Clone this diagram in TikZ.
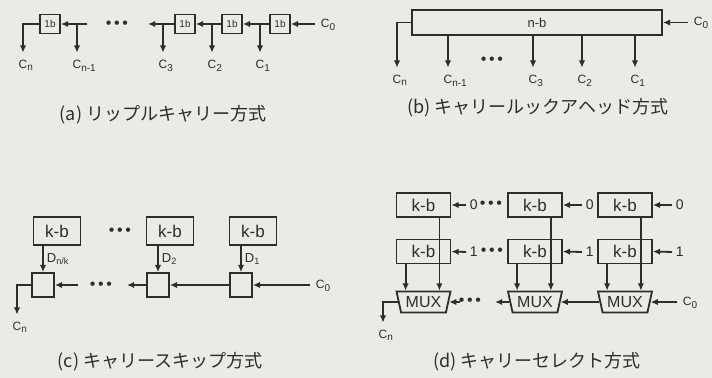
\documentclass[tikz,border=0pt]{standalone}
\usepackage{fontspec}
\setmainfont{Liberation Sans}
\newfontfamily\jpfont{Noto Sans CJK JP}
\usetikzlibrary{arrows.meta, calc, positioning, shapes.geometric}

\definecolor{paper}{RGB}{234,234,230}
\definecolor{ink}{RGB}{45,45,45}

\begin{document}
\begin{tikzpicture}[x=0.5pt, y=-0.5pt, >={Latex[length=3.6pt,width=3.2pt]}, color=ink, line width=0.9pt,
  onebit/.style={draw, inner sep=0pt, minimum width=10pt, minimum height=9.5pt, font=\fontsize{5}{5}\selectfont},
  kbit/.style={draw, inner sep=0pt, font=\fontsize{8.5}{9}\selectfont},
  skipbox/.style={draw, inner sep=0pt, minimum width=11pt, minimum height=12pt},
  mux/.style={draw, trapezium, trapezium left angle=108, trapezium right angle=108, trapezium stretches=true, inner sep=0pt, minimum width=27pt, minimum height=10.5pt, font=\fontsize{8}{8}\selectfont},
  sig/.style={inner xsep=2.5pt, inner ysep=3pt, text height=4.5pt, text depth=1pt, font=\fontsize{6}{6}\selectfont},
  bitin/.style={anchor=west, inner xsep=1.5pt, inner ysep=0pt, font=\fontsize{7}{7}\selectfont},
  dsig/.style={anchor=west, inner sep=1.5pt, font=\fontsize{6.5}{7}\selectfont},
  dotrow/.style={inner sep=0pt, font=\fontsize{8}{8}\selectfont},
  capt/.style={font=\jpfont\fontsize{9}{9}\selectfont}]
  \path[use as bounding box, fill=paper] (0,0) rectangle (712,378);

  % (a)
  \node[onebit] (a1) at (50,24) {1b};
  \node[onebit] (a2) at (185,24) {1b};
  \node[onebit] (a3) at (232,24) {1b};
  \node[onebit] (a4) at (280,24) {1b};
  \node[sig, anchor=west] (ac0) at (315,24) {C\rlap{\textsubscript{0}}};
  \node[sig] (ac1) at (260,65) {C\rlap{\textsubscript{1}}};
  \node[sig] (ac2) at (212,65) {C\rlap{\textsubscript{2}}};
  \node[sig] (ac3) at (163,65) {C\rlap{\textsubscript{3}}};
  \node[sig] (acm) at (77,65) {C\rlap{\textsubscript{n-1}}};
  \node[sig] (acn) at (23,65) {C\rlap{\textsubscript{n}}};
  \node[dotrow] (adots) at (117,25) {\textbullet\,\textbullet\,\textbullet};
  \coordinate (aend) at (148,24);
  \coordinate (astart) at (87,24);
  \draw[->] (ac0.west) -- (a4.east);
  \draw[->] (a4.west) -- (a3.east);
  \draw[->] (a3.west) -- (a2.east);
  \draw[->] (a2.west) -- (aend);
  \draw[->] (astart) -- (a1.east);
  \draw[->] (a1.west) -| (acn.north);
  \foreach \c in {ac1, ac2, ac3, acm}
    \draw[->] (\c |- a1.east) -- (\c.north);
  \node[capt] (capa) at (163,115) {(a) リップルキャリー方式};

  % (b)
  \node[draw, inner sep=0pt, minimum width=125pt, minimum height=12.5pt, font=\fontsize{6.5}{7}\selectfont] (nb) at (537,22.5) {n-b};
  \node[sig, anchor=west] (bc0) at (688,22.5) {C\rlap{\textsubscript{0}}};
  \node[sig] (bc1) at (635,80) {C\rlap{\textsubscript{1}}};
  \node[sig] (bc2) at (582,80) {C\rlap{\textsubscript{2}}};
  \node[sig] (bc3) at (533,80) {C\rlap{\textsubscript{3}}};
  \node[sig] (bcm) at (448,80) {C\rlap{\textsubscript{n-1}}};
  \node[sig] (bcn) at (397,80) {C\rlap{\textsubscript{n}}};
  \node[dotrow] (bdots) at (492,61) {\textbullet\,\textbullet\,\textbullet};
  \draw[->] (bc0.west) -- (nb.east);
  \draw[->] (nb.west) -| (bcn.north);
  \foreach \c in {bc1, bc2, bc3, bcm}
    \draw[->] (\c |- nb.south) -- (\c.north);
  \node[capt] (capb) at (538,108) {(b) キャリールックアヘッド方式};

  % (c)
  \node[kbit, minimum width=23.5pt, minimum height=14pt] (k1) at (57,231) {k-b};
  \node[kbit, minimum width=23.5pt, minimum height=14pt] (k2) at (170,231) {k-b};
  \node[kbit, minimum width=23.5pt, minimum height=14pt] (k3) at (253,231) {k-b};
  \node[dotrow] (kdots) at (120,232) {\textbullet\,\textbullet\,\textbullet};
  \node[skipbox] (s1) at (43,285) {};
  \node[skipbox] (s2) at (158,285) {};
  \node[skipbox] (s3) at (241,285) {};
  \draw[->] (s1 |- k1.south) -- (s1.north) node[dsig, midway] (dnk) {D\rlap{\textsubscript{n/k}}};
  \draw[->] (s2 |- k2.south) -- (s2.north) node[dsig, midway] (d2) {D\rlap{\textsubscript{2}}};
  \draw[->] (s3 |- k3.south) -- (s3.north) node[dsig, midway] (d1) {D\rlap{\textsubscript{1}}};
  \node[sig, anchor=west] (cc0) at (310,285) {C\rlap{\textsubscript{0}}};
  \node[sig] (ccn) at (17,327) {C\rlap{\textsubscript{n}}};
  \node[dotrow] (cdots) at (101,286) {\textbullet\,\textbullet\,\textbullet};
  \coordinate (cend) at (127,285);
  \coordinate (cstart) at (78,285);
  \draw[->] (cc0.west) -- (s3.east);
  \draw[->] (s3.west) -- (s2.east);
  \draw[->] (s2.west) -- (cend);
  \draw[->] (cstart) -- (s1.east);
  \draw[->] (s1.west) -| (ccn.north);
  \node[capt] (capc) at (160,362) {(c) キャリースキップ方式};

  % (d)
  \foreach \i/\x in {1/423.5, 2/535, 3/625} {
    \node[kbit, minimum width=27pt, minimum height=12pt] (t\i) at (\x,205) {k-b};
    \node[kbit, minimum width=27pt, minimum height=12pt] (r\i) at (\x,251.5) {k-b};
    \node[mux] (m\i) at (\x,302) {MUX};
  }
  \node[bitin] (t1in) at (466,205) {0};
  \node[bitin] (t2in) at (582,205) {0};
  \node[bitin] (t3in) at (672,205) {0};
  \node[bitin] (r1in) at (466,252) {1};
  \node[bitin] (r2in) at (582,252) {1};
  \node[bitin] (r3in) at (672,252) {1};
  \node[dotrow] (tdots) at (491,205) {\textbullet\,\textbullet\,\textbullet};
  \node[dotrow] (rdots) at (492,252) {\textbullet\,\textbullet\,\textbullet};
  \foreach \i in {1,2,3} {
    \draw[->] (t\i in.west) -- (t\i.east);
    \draw[->] (r\i in.west) -- (r\i.east);
    \draw[->] ([xshift=5pt]r\i.south west) -- ([xshift=5pt]r\i.south west |- m\i.north);
    \draw[->] ([xshift=-6pt]t\i.south east) -- ([xshift=-6pt]t\i.south east |- m\i.north);
  }
  \node[sig, anchor=west] (dc0) at (677,302) {C\rlap{\textsubscript{0}}};
  \node[sig] (dcn) at (383,335) {C\rlap{\textsubscript{n}}};
  \node[dotrow] (mdots) at (470,302) {\textbullet\,\textbullet\,\textbullet};
  \coordinate (dend) at (495,302);
  \coordinate (dstart) at (460,302);
  \draw[->] (dc0.west) -- (m3.east);
  \draw[->] (m3.west) -- (m2.east);
  \draw[->] (m2.west) -- (dend);
  \draw[->] (dstart) -- (m1.east);
  \draw[->] (m1.west) -| (dcn.north);
  \node[capt] (capd) at (537,362) {(d) キャリーセレクト方式};
\end{tikzpicture}
\end{document}
